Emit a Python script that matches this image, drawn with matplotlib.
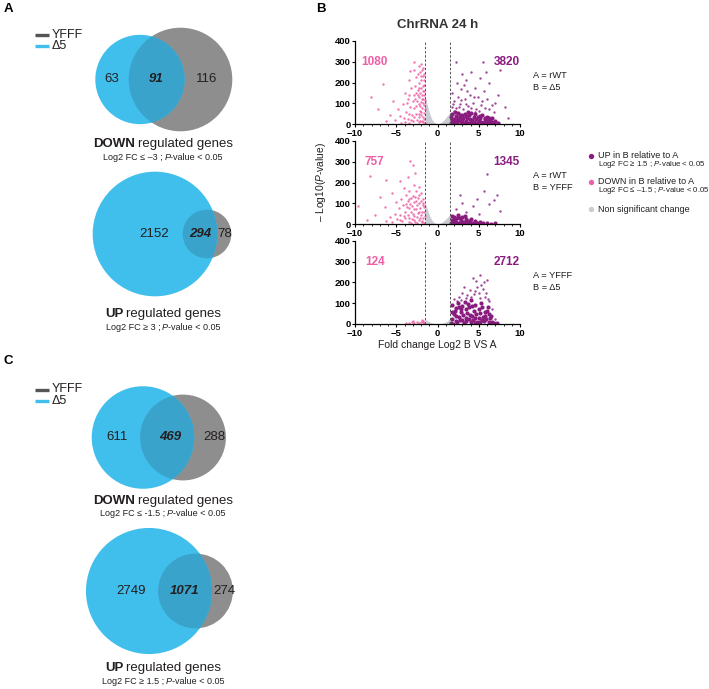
import numpy as np
import matplotlib.pyplot as plt
from matplotlib.patches import Circle
from matplotlib.ticker import MultipleLocator

plt.rcParams['font.family'] = ['Liberation Sans', 'DejaVu Sans']
plt.rcParams['mathtext.fontset'] = 'custom'
plt.rcParams['mathtext.rm'] = 'Liberation Sans'
plt.rcParams['mathtext.it'] = 'Liberation Sans:italic'
plt.rcParams['mathtext.bf'] = 'Liberation Sans:bold'

# ---------------- data ----------------
# venn counts: (only delta5, both, only YFFF)
vennA_down = (63, 91, 116)
vennA_up = (2152, 294, 78)
vennC_down = (611, 469, 288)
vennC_up = (2749, 1071, 274)

rule_A_down = 'Log2 FC ≤ –3 ;'
rule_A_up = 'Log2 FC ≥ 3 ;'
rule_C_down = 'Log2 FC ≤ -1.5 ;'
rule_C_up = 'Log2 FC ≥ 1.5 ;'

FC_CUT = 1.5
volcano_names = [('rWT', 'Δ5'), ('rWT', 'YFFF'), ('YFFF', 'Δ5')]
n_down = [1080, 757, 124]
n_up = [3820, 1345, 2712]

# volcano 1 : A = rWT, B = d5
down1 = [(-1.55, 5), (-1.6, 25), (-1.65, 55), (-1.6, 90), (-1.7, 120), (-1.75, 160), (-1.6, 190),
         (-1.8, 230), (-1.7, 270), (-1.9, 15), (-1.95, 45), (-1.85, 75), (-2.0, 105), (-1.9, 140),
         (-2.05, 175), (-1.95, 210), (-2.1, 250), (-2.0, 290), (-2.2, 10), (-2.25, 35), (-2.15, 65),
         (-2.3, 95), (-2.2, 130), (-2.35, 165), (-2.25, 200), (-2.4, 240), (-2.3, 280), (-2.5, 20),
         (-2.6, 50), (-2.55, 85), (-2.7, 120), (-2.6, 150), (-2.75, 185), (-2.65, 225), (-2.8, 260),
         (-1.6, 140), (-1.7, 10), (-1.8, 100), (-2.0, 60), (-2.1, 150), (-1.65, 240), (-2.45, 110),
         (-1.55, 70), (-1.6, 160), (-1.75, 35), (-1.8, 185), (-1.9, 120), (-2.0, 230), (-2.1, 85),
         (-2.2, 175), (-2.3, 50), (-2.4, 140), (-1.65, 210), (-1.55, 115), (-1.85, 260), (-2.15, 15),
         (-3.0, 15), (-3.1, 45), (-3.3, 80), (-3.0, 110), (-3.4, 140), (-3.2, 175), (-3.6, 25),
         (-3.8, 60), (-3.5, 210), (-4.0, 10), (-4.2, 95), (-4.5, 40), (-3.9, 150), (-4.8, 70),
         (-5.1, 20), (-5.4, 110), (-5.8, 45), (-6.3, 15), (-6.6, 195), (-7.2, 70), (-8.1, 130),
         (-4.4, 5), (-3.3, 255), (-2.9, 300), (-3.5, 5), (-2.9, 35), (-4.1, 30), (-3.7, 100),
         (-2.9, 75), (-3.2, 20), (-2.8, 140), (-3.4, 50), (-3.6, 120)]
up1_core = [(1.6, 3), (1.8, 12), (2.0, 25), (2.2, 40), (1.7, 48), (2.4, 6), (2.6, 18), (2.8, 32),
            (3.0, 45), (2.5, 52), (3.2, 4), (3.4, 15), (3.6, 28), (3.8, 42), (3.3, 50), (4.0, 8),
            (4.2, 20), (4.4, 35), (4.6, 48), (4.1, 55), (4.8, 5), (5.0, 16), (5.2, 30), (5.4, 44),
            (5.6, 10), (5.8, 22), (6.0, 36), (6.2, 6), (6.4, 18), (6.6, 28), (6.8, 8), (7.0, 14),
            (1.9, 2), (2.3, 20), (2.7, 44), (3.1, 30), (3.5, 8), (3.9, 22), (4.3, 2), (4.7, 26),
            (5.1, 40), (5.5, 3), (5.9, 12), (6.3, 30), (6.7, 3), (7.3, 6), (2.1, 58), (3.7, 60),
            (1.6, 35), (2.9, 10), (1.7, 20), (2.1, 8), (2.5, 30), (3.0, 20), (3.4, 38), (3.8, 5),
            (4.4, 12), (4.9, 35), (5.3, 8), (5.7, 30), (6.1, 20), (6.5, 10)]
up1 = [(1.7, 80), (2.0, 110), (1.8, 150), (2.3, 300), (2.2, 75), (2.5, 130), (2.7, 95), (2.9, 170),
       (3.1, 70), (3.3, 120), (3.5, 210), (3.7, 85), (3.9, 140), (4.1, 250), (4.3, 100), (4.5, 175),
       (4.7, 70), (4.9, 130), (5.1, 220), (5.3, 90), (5.5, 300), (5.6, 160), (5.8, 75), (6.0, 120),
       (6.3, 200), (6.6, 90), (6.9, 60), (7.3, 140), (7.6, 260), (8.2, 80), (8.6, 30), (3.0, 240),
       (2.4, 200), (4.6, 60), (5.9, 250), (2.0, 65), (2.6, 80), (3.4, 95), (4.0, 75), (5.0, 65),
       (5.4, 110), (6.2, 70), (3.6, 160), (2.8, 115), (4.4, 130), (7.0, 100), (1.9, 95), (3.2, 190)]
grey_x1 = [-1.5, -1.3, -1.1, -0.9, -0.7, -0.5, -0.3, 0, 0.3, 0.6, 0.9, 1.2, 1.5]
grey_y1 = [130, 100, 70, 45, 25, 12, 5, 0, 4, 12, 25, 40, 55]

# volcano 2 : A = rWT, B = YFFF
down2 = [(-1.6, 5), (-1.7, 30), (-1.6, 60), (-1.8, 90), (-1.9, 15), (-2.0, 45), (-2.1, 75), (-2.0, 110),
         (-2.2, 140), (-2.3, 20), (-2.4, 55), (-2.5, 90), (-2.4, 125), (-2.6, 160), (-2.7, 8), (-2.8, 40),
         (-2.9, 70), (-2.8, 105), (-3.0, 135), (-3.1, 25), (-3.2, 60), (-3.3, 95), (-3.2, 125), (-3.5, 10),
         (-3.6, 45), (-3.7, 80), (-3.6, 110), (-3.9, 30), (-4.0, 60), (-4.2, 90), (-4.3, 15), (-4.5, 45),
         (-4.7, 75), (-4.9, 25), (-5.2, 50), (-5.5, 10), (-5.8, 35), (-6.2, 15), (-2.2, 180), (-2.9, 190),
         (-3.4, 160), (-1.75, 120), (-2.5, 5), (-3.8, 140), (-4.4, 120), (-1.65, 80), (-2.1, 30),
         (-2.6, 70), (-3.0, 50), (-3.4, 30), (-2.3, 100), (-1.9, 60), (-2.7, 130), (-3.5, 75),
         (-1.55, 40), (-1.7, 100), (-1.85, 10), (-2.0, 150), (-2.25, 60), (-2.45, 35), (-2.65, 110),
         (-2.85, 20), (-3.05, 85), (-3.25, 5), (-3.45, 120), (-3.8, 95), (-4.1, 40), (-4.6, 20),
         (-3.3, 305), (-3.0, 285), (-2.7, 245), (-3.6, 225), (-4.6, 205), (-6.2, 213), (-8.2, 229),
         (-9.6, 85), (-7.0, 130), (-5.5, 150), (-6.4, 80), (-7.6, 45), (-8.6, 20), (-5.0, 105), (-4.1, 175)]
up2_core = [(1.6, 5), (1.8, 20), (2.0, 35), (2.2, 10), (2.4, 28), (2.6, 4), (2.8, 18), (3.0, 32),
            (3.2, 8), (3.4, 22), (3.6, 3), (3.8, 14), (4.0, 26), (4.2, 6), (4.5, 15), (4.8, 4),
            (5.1, 10), (1.7, 40), (2.5, 45), (3.3, 38), (5.5, 3), (6.0, 6), (6.5, 2), (7.0, 4),
            (1.9, 12), (2.9, 8), (3.9, 5), (2.1, 22), (2.7, 30), (3.5, 12), (4.4, 5)]
up2 = [(2.7, 141), (6.0, 240), (5.6, 157), (6.8, 117), (4.3, 85), (7.6, 61), (3.5, 60), (2.2, 70),
       (5.0, 50), (6.2, 95), (4.8, 120), (7.2, 140), (3.0, 100)]
grey_x2 = grey_x1
grey_y2 = [105, 80, 55, 35, 20, 10, 4, 0, 3, 10, 20, 32, 45]

# volcano 3 : A = YFFF, B = d5
down3 = [(-1.6, 3), (-1.8, 8), (-2.0, 12), (-2.2, 5), (-2.5, 10), (-2.8, 4), (-3.1, 8), (-3.4, 3),
         (-3.8, 6), (-1.7, 15), (-2.4, 2), (-1.9, 18), (-3.0, 14)]
up3_core = [(1.6, 5), (1.8, 25), (2.0, 50), (2.2, 75), (1.7, 90), (2.4, 10), (2.6, 35), (2.8, 60),
            (3.0, 85), (2.5, 100), (3.2, 5), (3.4, 30), (3.6, 55), (3.8, 80), (3.3, 105), (4.0, 12),
            (4.2, 40), (4.4, 65), (4.6, 90), (4.1, 115), (4.8, 8), (5.0, 30), (5.2, 55), (5.4, 80),
            (5.6, 15), (5.8, 40), (6.0, 65), (6.2, 10), (6.4, 30), (6.6, 12), (6.9, 5), (7.2, 3),
            (1.9, 2), (2.3, 40), (2.7, 20), (3.1, 45), (3.5, 15), (3.9, 45), (4.3, 20), (4.7, 50),
            (5.1, 12), (5.5, 35), (5.9, 25), (6.3, 50), (2.1, 62), (2.9, 72), (3.7, 95), (4.5, 30),
            (5.3, 100), (6.1, 80), (1.7, 60), (2.2, 15), (2.6, 80), (3.0, 20), (3.4, 70), (3.8, 25),
            (4.2, 85), (4.6, 5), (5.0, 70), (5.4, 20), (5.8, 60), (6.5, 40)]
up3 = [(2.0, 120), (2.6, 130), (3.0, 150), (3.5, 125), (3.9, 165), (4.3, 221), (4.4, 145), (4.8, 180),
       (5.2, 237), (5.0, 150), (5.6, 200), (6.0, 213), (5.7, 130), (6.3, 110), (6.6, 70), (3.2, 180),
       (4.7, 205), (5.5, 170), (2.4, 110), (7.0, 25), (4.0, 130), (4.6, 160), (5.3, 190), (5.9, 150),
       (3.6, 140), (2.8, 115), (5.1, 125), (6.1, 120)]
grey_x3 = grey_x1
grey_y3 = [25, 18, 12, 8, 5, 2, 1, 0, 1, 3, 7, 14, 28]

volcano_down = [down1, down2, down3]
volcano_up_core = [up1_core, up2_core, up3_core]
volcano_up = [up1, up2, up3]
volcano_grey = [(grey_x1, grey_y1), (grey_x2, grey_y2), (grey_x3, grey_y3)]

# ---------------- style ----------------
BLUE = '#41BFEC'
GREY = '#8E8E8E'
OVER = '#3AA3CB'
TXT = '#231F20'
PINK = '#EE5FA5'
PURPLE = '#8A1C80'
LGREY = '#C9CDD3'

W, H = 709, 689
fig = plt.figure(figsize=(W / 100, H / 100), dpi=100)
ov = fig.add_axes([0, 0, 1, 1])
ov.set_xlim(0, W)
ov.set_ylim(H, 0)
ov.axis('off')
rend = fig.canvas.get_renderer()


def runs(x, y, parts, size, gapf):
    # parts: (text, weight, style, space before) placed one after the other, centred on x
    ts = [ov.text(0, y, t, fontsize=size, fontweight=w, style=s, va='center', color=TXT)
          for t, w, s, g in parts]
    gap = gapf * size * 100 / 72
    widths = [t.get_window_extent(rend).width for t in ts]
    total = sum(widths) + gap * sum(p[3] for p in parts)
    x0 = x - total / 2
    for t, wd, p in zip(ts, widths, parts):
        x0 += gap * p[3]
        t.set_x(x0)
        x0 += wd


def venn(counts, cy, cxb, cxg, k, num_x, word, rule, ty):
    only_b, both, only_g = counts
    rb = k * np.sqrt(only_b + both)
    rg = k * np.sqrt(only_g + both)
    g = Circle((cxg, cy), rg, fc=GREY, ec='none')
    ov.add_patch(g)
    ov.add_patch(Circle((cxb, cy), rb, fc=BLUE, ec='none'))
    inter = Circle((cxb, cy), rb, fc=OVER, ec='none')
    ov.add_patch(inter)
    inter.set_clip_path(g)
    ov.text(num_x[0], cy, str(only_b), ha='center', va='center', fontsize=9.5, color=TXT)
    ov.text(num_x[1], cy, str(both), ha='center', va='center', fontsize=9.5, color=TXT,
            fontweight='bold', style='italic')
    ov.text(num_x[2], cy, str(only_g), ha='center', va='center', fontsize=9.5, color=TXT)
    runs(163, ty, [(word, 'bold', 'normal', 0), ('regulated genes', 'normal', 'normal', 1)], 9.5, 0.2)
    runs(163, ty + 13, [(rule, 'normal', 'normal', 0), ('P', 'normal', 'italic', 1),
                        ('-value < 0.05', 'normal', 'normal', 0)], 6.5, 0.2)


def venn_legend(y):
    ov.plot([35, 49], [y, y], color='#555555', lw=2.4, solid_capstyle='butt')
    ov.plot([35, 49], [y + 11.5, y + 11.5], color=BLUE, lw=2.4, solid_capstyle='butt')
    ov.text(51.5, y, 'YFFF', va='center', fontsize=9, color=TXT)
    ov.text(51.5, y + 11.5, 'Δ5', va='center', fontsize=9, color=TXT)


ov.text(4, 9, 'A', fontweight='bold', fontsize=9.5, va='center')
ov.text(316, 8.5, 'B', fontweight='bold', fontsize=9.5, va='center')
ov.text(4, 361, 'C', fontweight='bold', fontsize=9.5, va='center')

venn_legend(34.5)
venn(vennA_down, 79.5, 140, 180.5, 3.6, (112, 156, 207), 'DOWN', rule_A_down, 144)
venn(vennA_up, 234, 155, 207, 1.26, (154, 200.5, 225), 'UP', rule_A_up, 314)
venn_legend(389.5)
venn(vennC_down, 437.5, 143, 183, 1.56, (117, 170, 214), 'DOWN', rule_C_down, 501)
venn(vennC_up, 591, 149, 195.5, 1.02, (131, 185, 224), 'UP', rule_C_up, 668)

# ---------------- volcano plots ----------------
ov.text(438, 24.5, 'ChrRNA 24 h', ha='center', va='center', fontsize=9.5, fontweight='bold',
        color='#333333')

tops = [41, 141, 241]
for i in range(3):
    top = tops[i]
    ax = fig.add_axes([355 / W, 1 - (top + 83) / H, 165 / W, 83 / H])
    ax.patch.set_alpha(0)
    gx, gy = volcano_grey[i]
    ax.fill_between(gx, 0, gy, color=LGREY, lw=0, zorder=1)
    d = np.array(volcano_down[i])
    c = np.array(volcano_up_core[i])
    u = np.array(volcano_up[i])
    ax.scatter(d[:, 0], d[:, 1], s=3, color=PINK, lw=0, alpha=0.85, zorder=2)
    ax.scatter(c[:, 0], c[:, 1], s=9, color=PURPLE, lw=0, zorder=2)
    ax.scatter(u[:, 0], u[:, 1], s=3, color=PURPLE, lw=0, alpha=0.8, zorder=2)
    ax.axvline(-FC_CUT, color='#555555', lw=0.7, ls=(0, (2.5, 1.8)), zorder=3)
    ax.axvline(FC_CUT, color='#555555', lw=0.7, ls=(0, (2.5, 1.8)), zorder=3)
    ax.set_xlim(-10, 10)
    ax.set_ylim(0, 400)
    ax.set_xticks([-10, -5, 0, 5, 10])
    ax.set_yticks([0, 100, 200, 300, 400])
    ax.xaxis.set_minor_locator(MultipleLocator(1))
    ax.tick_params(which='major', length=2.5, width=0.8, pad=0.8, labelsize=6.8)
    ax.tick_params(which='minor', length=1.4, width=0.6)
    for lab in ax.get_xticklabels() + ax.get_yticklabels():
        lab.set_fontweight('bold')
    for s in ['top', 'right']:
        ax.spines[s].set_visible(False)
    for s in ['left', 'bottom']:
        ax.spines[s].set_linewidth(0.9)
    ax.text(-7.6, 300, str(n_down[i]), ha='center', va='center', fontsize=8.5,
            fontweight='bold', color=PINK)
    ax.text(8.4, 300, str(n_up[i]), ha='center', va='center', fontsize=8.5,
            fontweight='bold', color=PURPLE)
    a_name, b_name = volcano_names[i]
    ov.text(533, top + 35, 'A = ' + a_name, va='center', fontsize=6.7, color=TXT)
    ov.text(533, top + 47, 'B = ' + b_name, va='center', fontsize=6.7, color=TXT)

ov.text(321, 182, r'– Log10($\mathit{P}$-value)', rotation=90, ha='center', va='center',
        fontsize=7.4, color=TXT)
ov.text(437, 345, 'Fold change Log2 B VS A', ha='center', va='center', fontsize=7.5, color=TXT)

# legend of volcano plots
ov.scatter([590.7], [155.5], s=15, color=PURPLE, lw=0)
ov.scatter([590.7], [181.7], s=15, color=PINK, lw=0)
ov.scatter([590.7], [209.3], s=15, color=LGREY, lw=0)
ov.text(597.5, 155.5, 'UP in B relative to A', va='center', fontsize=6.5, color=TXT)
ov.text(597.5, 164.8, r'Log2 FC ≥ 1.5 ; $\mathit{P}$-value < 0.05', va='center', fontsize=5.6, color=TXT)
ov.text(597.5, 181.7, 'DOWN in B relative to A', va='center', fontsize=6.5, color=TXT)
ov.text(597.5, 191, r'Log2 FC ≤ –1.5 ; $\mathit{P}$-value < 0.05', va='center', fontsize=5.6, color=TXT)
ov.text(597.5, 209.3, 'Non significant change', va='center', fontsize=6.5, color=TXT)

fig.savefig('out.png', dpi=100)
